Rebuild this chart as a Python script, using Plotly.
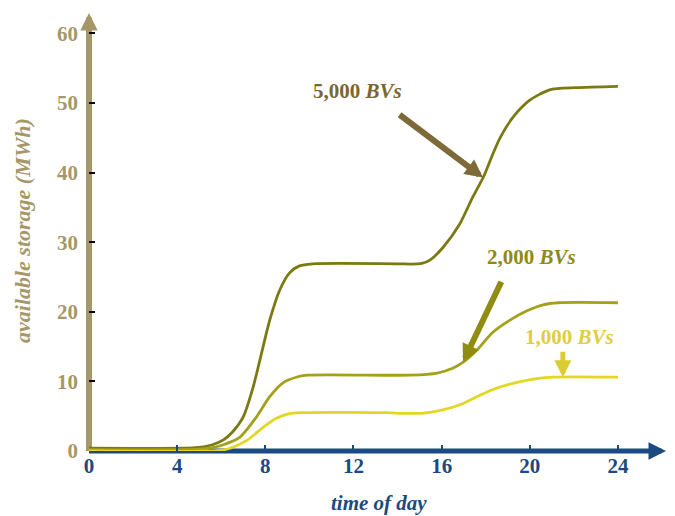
import numpy as np
import plotly.graph_objects as go

# ---- data ----
hours_5000 = [0, 4.7, 5.2, 5.6, 6.1, 6.5, 7.0, 7.45, 7.9, 8.2, 8.65, 9.1, 9.55, 10.15,
              14.0, 14.6, 15.1, 15.5, 16.05, 16.8, 17.4, 17.9, 18.3, 18.65, 19.25, 20.0,
              20.9, 22.1, 24]
storage_5000 = [0.4, 0.45, 0.6, 0.9, 1.6, 2.7, 4.9, 9.2, 15.0, 18.8, 23.1, 25.6, 26.6, 26.9,
                26.9, 26.85, 26.95, 27.5, 29.2, 32.5, 36.4, 39.4, 42.5, 45.0, 48.0, 50.4,
                51.9, 52.2, 52.4]

hours_2000 = [0, 5.0, 5.6, 6.1, 6.85, 7.6, 8.2, 8.8, 9.4, 9.9, 14.6, 15.8, 16.5, 17.0,
              17.6, 18.3, 19.1, 19.85, 20.6, 21.3, 24]
storage_2000 = [0.2, 0.25, 0.5, 0.9, 2.0, 4.9, 7.8, 9.8, 10.6, 10.9, 10.9, 11.2, 11.9, 12.8,
                14.5, 17.0, 18.8, 20.1, 21.0, 21.3, 21.3]

hours_1000 = [0, 5.8, 6.4, 7.2, 7.9, 8.5, 9.0, 9.6, 13.5, 14.3, 15.2, 16.05, 16.8, 17.6,
              18.3, 19.1, 20.1, 21.05, 24]
storage_1000 = [0.0, 0.05, 0.4, 1.6, 3.4, 4.7, 5.3, 5.5, 5.5, 5.4, 5.45, 5.9, 6.6, 7.8,
                8.8, 9.6, 10.3, 10.6, 10.6]

x_ticks = [0, 4, 8, 12, 16, 20, 24]
y_ticks = [0, 10, 20, 30, 40, 50, 60]

series_labels = ["5,000", "2,000", "1,000"]
arrow_hours = [17.88, 16.97, 21.5]

# ---- styles ----
OFF = 8                      # page body margin in the browser
W, H = 675 - OFF, 516 - OFF
ML, MR, MT, MB = 89 - OFF, 9, 13 - OFF, 65
plot_w = W - ML - MR
plot_h = H - MT - MB
X_MAX = plot_w / 22.04
Y_MAX = plot_h / 6.96


def px_to_paper(sx, sy):
    """screen pixel (as seen in the page) -> paper fraction"""
    fx = sx - OFF
    fy = sy - OFF
    return (fx - ML) / plot_w, (H - MB - fy) / plot_h


line_colors = ["#7B7A12", "#A4A01A", "#E2D722"]
label_colors = ["#7B6633", "#8E8A16", "#E0CE3E"]
arrow_colors = ["#7D6A38", "#908C12", "#DDCB33"]
TAN = "#A69768"
BLUE = "#1B4A80"
FONT = "Liberation Serif"

fig = go.Figure()
series = [(hours_5000, storage_5000), (hours_2000, storage_2000), (hours_1000, storage_1000)]
for (hx, sy), col, name in zip(series, line_colors, series_labels):
    fig.add_trace(go.Scatter(x=hx, y=sy, mode="lines", name=name,
                             line=dict(color=col, width=2.8, shape="spline", smoothing=0.7),
                             showlegend=False, hoverinfo="skip"))

# axis shafts (below traces)
fig.add_shape(type="line", xref="paper", yref="paper", x0=0, x1=0.98, y0=0, y1=0,
              line=dict(color=BLUE, width=5), layer="below")
fig.add_shape(type="line", xref="paper", yref="paper", x0=0, x1=0, y0=0, y1=0.97,
              line=dict(color=TAN, width=6), layer="below")

annotations = []
# axis arrow heads
annotations.append(dict(x=1, y=0, xref="paper", yref="paper", ax=-16, ay=0, text="",
                        showarrow=True, arrowhead=2, arrowsize=0.7, arrowwidth=5,
                        arrowcolor=BLUE, standoff=0))
annotations.append(dict(x=0, y=1, xref="paper", yref="paper", ax=0, ay=16, text="",
                        showarrow=True, arrowhead=2, arrowsize=0.58, arrowwidth=6,
                        arrowcolor=TAN, standoff=0))

# series labels and arrows
label_pos = [(357, 91), (531, 257), (569, 337)]
arrow_tails = [(-85, -64), (39, -82), (0, -27)]
arrow_widths = [6, 6, 5]
arrow_sizes = [0.6, 0.6, 0.68]
for i, (hx, sy) in enumerate(series):
    tip_x = arrow_hours[i]
    tip_y = float(np.interp(tip_x, hx, sy))
    ax_, ay_ = arrow_tails[i]
    annotations.append(dict(x=tip_x, y=tip_y, xref="x", yref="y", ax=ax_, ay=ay_,
                            text="", showarrow=True, arrowhead=2, arrowsize=arrow_sizes[i],
                            arrowwidth=arrow_widths[i], arrowcolor=arrow_colors[i],
                            standoff=0))
    lx, ly = px_to_paper(*label_pos[i])
    annotations.append(dict(x=lx, y=ly, xref="paper", yref="paper", showarrow=False,
                            text="<b>" + series_labels[i] + " <i>BVs</i></b>",
                            font=dict(family=FONT, size=21, color=label_colors[i]),
                            xanchor="center", yanchor="middle"))

# axis titles
tx, ty = px_to_paper(22, 231)
annotations.append(dict(x=tx, y=ty, xref="paper", yref="paper", showarrow=False,
                        textangle=-90, text="<b><i>available storage (MWh)</i></b>",
                        font=dict(family=FONT, size=22, color=TAN),
                        xanchor="center", yanchor="middle"))
tx, ty = px_to_paper(379, 503)
annotations.append(dict(x=tx, y=ty, xref="paper", yref="paper", showarrow=False,
                        text="<b><i>time of day</i></b>",
                        font=dict(family=FONT, size=21, color=BLUE),
                        xanchor="center", yanchor="middle"))

fig.update_layout(
    width=W, height=H,
    margin=dict(l=ML, r=MR, t=MT, b=MB),
    paper_bgcolor="white", plot_bgcolor="white",
    annotations=annotations,
    xaxis=dict(range=[0, X_MAX], tickvals=x_ticks, ticktext=[str(v) for v in x_ticks],
               showgrid=False, zeroline=False, showline=False,
               ticks="inside", ticklen=6, tickwidth=1.5, tickcolor=BLUE,
               tickfont=dict(family=FONT, size=21, color=BLUE, weight="bold"),
               fixedrange=True),
    yaxis=dict(range=[0, Y_MAX], tickvals=y_ticks, ticktext=[str(v) for v in y_ticks],
               showgrid=False, zeroline=False, showline=False,
               ticks="inside", ticklen=6, tickwidth=1.5, tickcolor="black",
               tickfont=dict(family=FONT, size=21, color=TAN, weight="bold"),
               ticklabelstandoff=10, fixedrange=True),
)

fig.write_html("out.html")
